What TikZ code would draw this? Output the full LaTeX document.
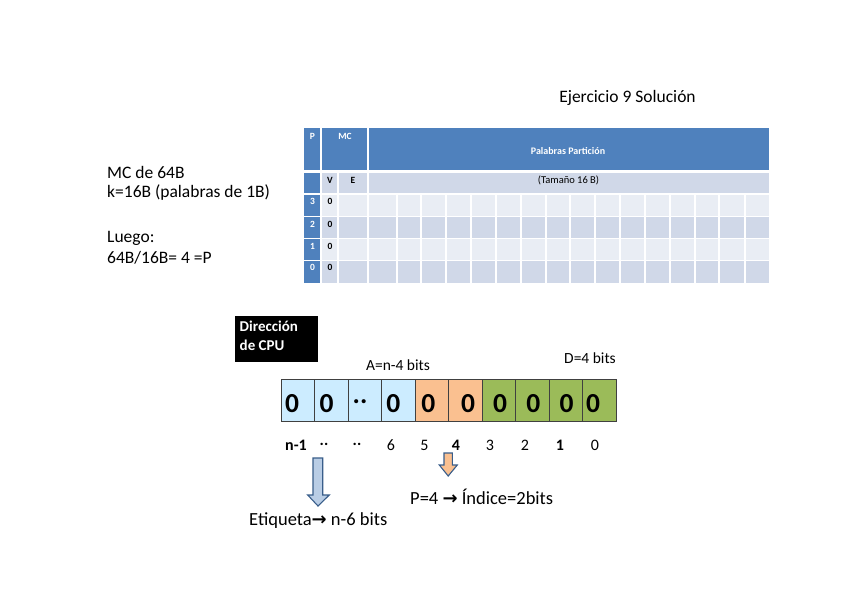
\documentclass[tikz,border=0pt]{standalone}
\usepackage{fontspec}
\setmainfont{Carlito}
\newfontfamily\symfont{DejaVu Sans}
\definecolor{hdr}{HTML}{4F81BD}
\definecolor{rowA}{HTML}{D0D8E8}
\definecolor{rowB}{HTML}{E9EDF4}
\definecolor{bitblue}{HTML}{CCECFF}
\definecolor{bitorange}{HTML}{FAC090}
\definecolor{bitgreen}{HTML}{9BBB59}
\definecolor{arrowline}{HTML}{385D8A}
\definecolor{arrowblue}{HTML}{B9CDE5}
\definecolor{boxline}{HTML}{404040}
\tikzset{
  txt/.style={inner sep=0pt, font=\fontsize{17.5}{20}\selectfont},
  restxt/.style={inner sep=0pt, font=\fontsize{18.5}{20}\selectfont},
  tabw/.style={inner sep=0pt, text=white, font=\fontsize{9.5}{10}\selectfont\bfseries},
  tabd/.style={inner sep=0pt, text=black, font=\fontsize{9.5}{10}\selectfont\bfseries},
  bitbox/.style={draw=boxline, line width=0.8pt, minimum width=33.5pt, minimum height=42.5pt, inner sep=0pt},
  digit/.style={inner sep=0pt, anchor=base, font=\fontsize{27.5}{30}\selectfont\bfseries},
  bitlab/.style={inner sep=0pt, font=\fontsize{16}{18}\selectfont},
  bitlabb/.style={inner sep=0pt, font=\fontsize{16}{18}\selectfont\bfseries},
  blockarrow/.style={draw=arrowline, line width=1.1pt, line join=miter},
}
\begin{document}
\begin{tikzpicture}[x=1pt,y=-1pt]
\useasboundingbox (0,0) rectangle (848,599);
\fill[white] (0,0) rectangle (848,599);

% title
\node[inner sep=0pt, font=\fontsize{17.5}{19}\selectfont] (title) at (627.5,98) {Ejercicio 9 Solución};

% left text
\node[txt, anchor=west] (l1) at (107,172.5) {MC de 64B};
\node[txt, anchor=west] (l2) at (107,193) {k=16B (palabras de 1B)};
\node[txt, anchor=west] (l3) at (107,238) {Luego:};
\node[txt, anchor=west] (l4) at (107,258) {64B/16B= 4 =P};

% table backgrounds
\fill[hdr] (304,128) rectangle (769,171.5);
\fill[hdr] (304,171.5) rectangle (321,282.5);
\fill[rowA] (321,171.5) rectangle (769,194);
\fill[rowB] (321,194) rectangle (769,216.5);
\fill[rowA] (321,216.5) rectangle (769,238.5);
\fill[rowB] (321,238.5) rectangle (769,260.5);
\fill[rowA] (321,260.5) rectangle (769,282.5);
% white grid lines
\draw[white, line width=2.7pt] (304,171.5) -- (769,171.5);
\foreach \yy in {194,216.5,238.5,260.5} \draw[white, line width=1.5pt] (304,\yy) -- (769,\yy);
\draw[white, line width=1.5pt] (321,128) -- (321,282.5);
\draw[white, line width=1.5pt] (368,128) -- (368,282.5);
\draw[white, line width=1.5pt] (338,171.5) -- (338,282.5);
\foreach \xx in {397,421,446,471,496,521,546,570,595,620,645,670,695,719,745}
  \draw[white, line width=1.5pt] (\xx,194) -- (\xx,282.5);

% table texts
\node[tabw] (hP) at (312.5,136) {P};
\node[tabw] (hMC) at (345,136.5) {MC};
\node[tabw, font=\fontsize{10}{12}\selectfont\bfseries] (hPal) at (568,151.5) {Palabras Partición};
\node[tabd] (hV) at (330,180.5) {V};
\node[tabd] (hE) at (353,180.5) {E};
\node[tabd, font=\fontsize{10.5}{12}\selectfont] (hTam) at (568.5,180.5) {(Tamaño 16 B)};
\node[tabw] (p3) at (312.5,201.5) {3};
\node[tabw] (p2) at (312.5,224) {2};
\node[tabw] (p1) at (312.5,246) {1};
\node[tabw] (p0) at (312.5,267.5) {0};
\node[tabd] (v3) at (330,201.5) {0};
\node[tabd] (v2) at (330,224) {0};
\node[tabd] (v1) at (330,246) {0};
\node[tabd] (v0) at (330,267.5) {0};

% CPU address box
\fill[black] (235,316) rectangle (318,362);
\node[inner sep=0pt, anchor=north west, text=white, align=left, font=\fontsize{15}{19}\selectfont\bfseries] (cpu) at (239.5,321) {Dirección\\de CPU};

\node[inner sep=0pt, font=\fontsize{15.5}{18}\selectfont] (A) at (398,365) {A=n-4 bits};
\node[inner sep=0pt, font=\fontsize{15.5}{18}\selectfont] (D) at (590,358) {D=4 bits};

% bit boxes
\node[bitbox, fill=bitblue] (b1) at (297.75,400.5) {};
\node[bitbox, fill=bitblue] (b2) at (331.25,400.5) {};
\node[bitbox, fill=bitblue] (b3) at (364.75,400.5) {};
\node[bitbox, fill=bitblue] (b4) at (398.25,400.5) {};
\node[bitbox, fill=bitorange] (b5) at (431.75,400.5) {};
\node[bitbox, fill=bitorange] (b6) at (465.25,400.5) {};
\node[bitbox, fill=bitgreen] (b7) at (498.75,400.5) {};
\node[bitbox, fill=bitgreen] (b8) at (532.25,400.5) {};
\node[bitbox, fill=bitgreen] (b9) at (565.75,400.5) {};
\node[bitbox, fill=bitgreen] (b10) at (599.25,400.5) {};
% digits
\node[digit] (z1) at (292,412.5) {0};
\node[digit] (z2) at (326.7,412.5) {0};
\node[digit] (z3) at (360,412.5) {\raisebox{9pt}{..}};
\node[digit] (z4) at (393.3,412.5) {0};
\node[digit] (z5) at (428.3,412.5) {0};
\node[digit] (z6) at (468,412.5) {0};
\node[digit] (z7) at (500,412.5) {0};
\node[digit] (z8) at (533.3,412.5) {0};
\node[digit] (z9) at (566.7,412.5) {0};
\node[digit] (z10) at (593,412.5) {0};

% bit labels
\node[bitlabb] (n1) at (296,445) {n-1};
\node[bitlabb, anchor=base] (d1) at (324,448) {\raisebox{2.5pt}{..}};
\node[bitlabb, anchor=base] (d2) at (357,448) {\raisebox{2.5pt}{..}};
\node[bitlab] (n6) at (391,445) {6};
\node[bitlab] (n5) at (424.5,445) {5};
\node[bitlabb] (n4) at (456,445) {4};
\node[bitlab] (n3) at (490,445) {3};
\node[bitlab] (n2) at (525,445) {2};
\node[bitlabb] (nn1) at (560,445) {1};
\node[bitlab] (n0) at (595,445) {0};

% block arrows
\draw[blockarrow, fill=arrowblue] (313,458) -- (322.7,458) -- (322.7,495) -- (329.3,495) -- (318,506) -- (307.7,495) -- (313,495) -- cycle;
\draw[blockarrow, fill=bitorange] (444,453) -- (452.3,453) -- (452.3,465) -- (457.3,465) -- (448.2,476) -- (439.3,465) -- (444,465) -- cycle;

% result texts
\node[restxt, anchor=west] (idx) at (410,496.5) {P=4 {\symfont\bfseries\fontsize{18}{18}\selectfont →} Índice=2bits};
\node[restxt, anchor=west] (etq) at (249,520.5) {Etiqueta{\symfont\bfseries\fontsize{18}{18}\selectfont →} n-6 bits};
\end{tikzpicture}
\end{document}
